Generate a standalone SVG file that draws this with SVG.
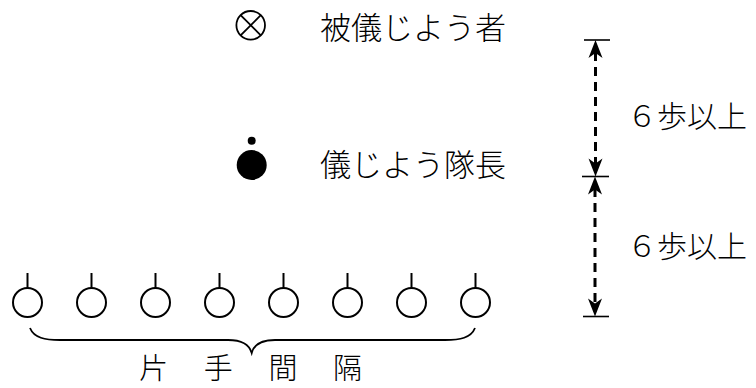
<svg xmlns="http://www.w3.org/2000/svg" xmlns:xlink="http://www.w3.org/1999/xlink" width="756" height="388" viewBox="0 0 756 388">
<style>
  .lbl { font-family: "Noto Sans CJK JP", "Liberation Serif", serif; font-weight: 300; fill: #000; }
  .big { font-size: 31px; }
  .mid { font-size: 30px; }
  .low { font-size: 29px; }
  .sol { fill: #fff; stroke: #000; stroke-width: 2; }
  .stem { stroke: #000; stroke-width: 2; }
  .tick { stroke: #000; stroke-width: 1.6; }
  .dash { stroke: #000; stroke-width: 3; stroke-dasharray: 9 6; fill: none; }
  .brace { fill: none; stroke: #000; stroke-width: 1.8; }
</style>
<defs>
  <path id="ah" d="M0,0 L7,18 L0,13 L-7,18 Z" fill="#000"/>
  <g id="soldier">
    <line class="stem" x1="0" y1="273" x2="0" y2="288"/>
    <circle class="sol" cx="0" cy="302.5" r="14.5"/>
  </g>
</defs>
<rect width="756" height="388" fill="#fff"/>

<g id="reviewed">
  <circle cx="250.7" cy="25.3" r="14.3" fill="none" stroke="#000" stroke-width="1.8"/>
  <line x1="240.6" y1="15.2" x2="260.8" y2="35.4" stroke="#000" stroke-width="1.8"/>
  <line x1="260.8" y1="15.2" x2="240.6" y2="35.4" stroke="#000" stroke-width="1.8"/>
  <text class="lbl big" x="320" y="39">被儀じよう者</text>
</g>

<g id="commander">
  <circle cx="251.7" cy="165" r="15" fill="#000"/>
  <circle cx="251.7" cy="140.7" r="4" fill="#000"/>
  <text class="lbl big" x="320" y="175.5">儀じよう隊長</text>
</g>

<g id="rank">
  <use xlink:href="#soldier" x="27.5"/>
  <use xlink:href="#soldier" x="91.5"/>
  <use xlink:href="#soldier" x="155.5"/>
  <use xlink:href="#soldier" x="219.5"/>
  <use xlink:href="#soldier" x="283.5"/>
  <use xlink:href="#soldier" x="347.5"/>
  <use xlink:href="#soldier" x="411.5"/>
  <use xlink:href="#soldier" x="475.5"/>
</g>

<g id="interval">
  <path class="brace" d="M30,328 C34,338 45,340 60,340 L228,340 C242,340 249,344 251.7,353 C254,344 261,340 275,340 L445,340 C460,340 471,338 475,328"/>
  <text class="lbl low" x="139" y="379" letter-spacing="35.7">片手間隔</text>
</g>

<g id="connectors">
  <line class="tick" x1="584" y1="40" x2="610" y2="40"/>
  <line class="tick" x1="582" y1="176.5" x2="609" y2="176.5"/>
  <line class="tick" x1="583" y1="316.5" x2="609" y2="316.5"/>
  <line class="dash" x1="595.5" y1="52" x2="595.5" y2="166"/>
  <line class="dash" x1="595" y1="188" x2="595" y2="306"/>
  <use xlink:href="#ah" transform="translate(595.5,40)"/>
  <use xlink:href="#ah" transform="translate(595.5,176.5) rotate(180)"/>
  <use xlink:href="#ah" transform="translate(595,176.5)"/>
  <use xlink:href="#ah" transform="translate(595,316.5) rotate(180)"/>
  <text class="lbl mid" x="627" y="126.5">６歩以上</text>
  <text class="lbl mid" x="627" y="256.5">６歩以上</text>
</g>
</svg>
